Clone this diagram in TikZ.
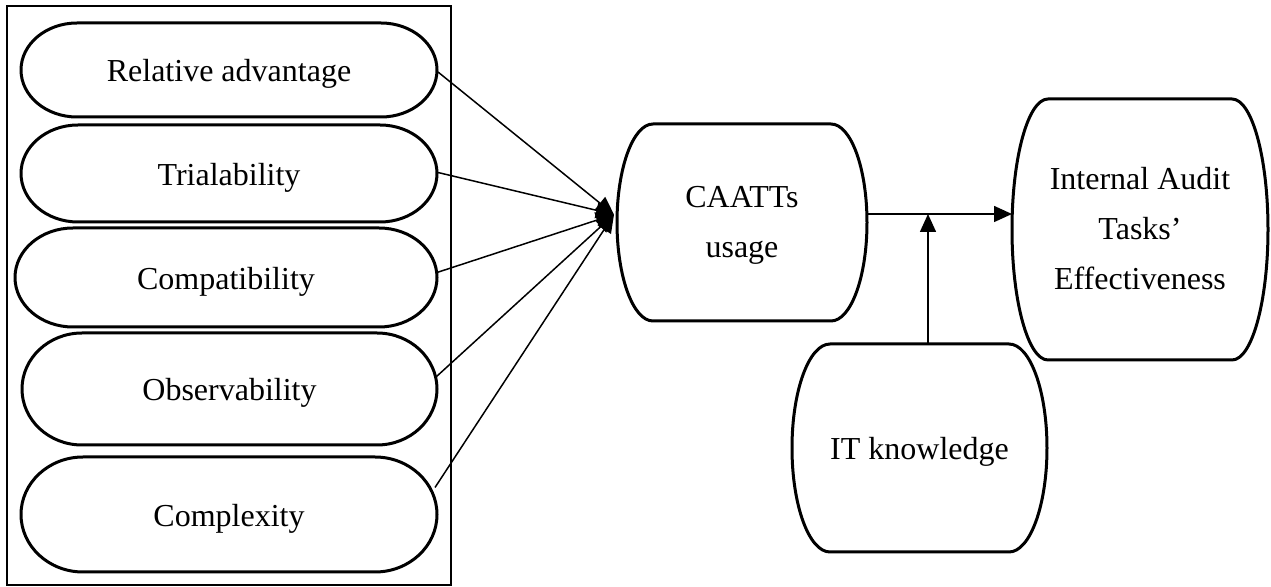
\documentclass[tikz,border=0pt]{standalone}
\usepackage{fontspec}
\setmainfont{Liberation Serif}
\usetikzlibrary{calc,arrows.meta}

% Outline of a node whose left and right ends are quarter-ellipse curves:
% #1 = node name, #2 = horizontal extent of each curved end
\newcommand\roundedoutline[2]{%
  \draw[outline]
    ($(#1.north west)+(#2,0)$) -- ($(#1.north east)+(-#2,0)$)
    .. controls ($(#1.north east)+(-0.448*#2,0)$) and ($(#1.east)!0.552!(#1.north east)$) .. (#1.east)
    .. controls ($(#1.east)!0.552!(#1.south east)$) and ($(#1.south east)+(-0.448*#2,0)$) .. ($(#1.south east)+(-#2,0)$)
    -- ($(#1.south west)+(#2,0)$)
    .. controls ($(#1.south west)+(0.448*#2,0)$) and ($(#1.west)!0.552!(#1.south west)$) .. (#1.west)
    .. controls ($(#1.west)!0.552!(#1.north west)$) and ($(#1.north west)+(0.448*#2,0)$) .. cycle;
}

% centred stack of lines with even spacing
\newcommand\stacked[1]{\begin{tabular}{@{}c@{}}#1\end{tabular}}

\tikzset{
  outline/.style={line width=1.5pt, line join=round},
  frame/.style={line width=1pt},
  box/.style={rectangle, draw=none, inner sep=0pt, outer sep=0pt, align=center,
              font=\fontsize{16}{25}\selectfont},
  oneline/.style={box, text height=15pt, text depth=3pt},
  link/.style={line width=0.75pt, -{Triangle[length=9pt,width=8pt]}}
}

\begin{document}
\begin{tikzpicture}[x=0.5pt, y=-0.5pt]
\useasboundingbox (0,0) rectangle (1271,587);

% group of innovation attributes
\draw[frame] (7,6) rectangle (451,585);

\node[oneline, minimum width=208pt,   minimum height=47pt]   (rel) at (229,70)    {Relative advantage};
\node[oneline, minimum width=208pt,   minimum height=48.5pt] (tri) at (229,173.5) {Trialability};
\node[oneline, minimum width=211pt,   minimum height=49.5pt] (com) at (226,277.5) {Compatibility};
\node[oneline, minimum width=207.5pt, minimum height=56pt]   (obs) at (229.5,389) {Observability};
\node[oneline, minimum width=208pt,   minimum height=57.5pt] (cpx) at (229,514.5) {Complexity};

\roundedoutline{rel}{56}
\roundedoutline{tri}{57}
\roundedoutline{com}{58}
\roundedoutline{obs}{60}
\roundedoutline{cpx}{62}

% usage, moderator and outcome
\node[box, minimum width=125pt,   minimum height=98.5pt]  (caatts) at (742,222.5)  {\stacked{CAATTs\\usage}};
\node[box, minimum width=128pt,   minimum height=130.5pt] (iat)    at (1140,229.5) {\stacked{Internal Audit\\Tasks'\\Effectiveness}};
\node[oneline, minimum width=127.5pt, minimum height=104pt] (itk)  at (919.5,448)  {IT knowledge};

\roundedoutline{caatts}{36}
\roundedoutline{iat}{36}
\roundedoutline{itk}{38}

% attributes feeding CAATTs usage
\draw[link] ($(rel.east)+(1,2)$)   -- ($(caatts.west)+(-3,-8)$);
\draw[link] ($(tri.east)+(1,-1)$)  -- ($(caatts.west)+(-3,-8)$);
\draw[link] ($(com.east)+(0,-5)$)  -- ($(caatts.west)+(-3,-8)$);
\draw[link] ($(obs.east)+(-1,-12)$) -- ($(caatts.west)+(-3,-8)$);
\draw[link] ($(cpx.east)+(-2,-27)$) -- ($(caatts.west)+(-3,-8)$);

% usage to effectiveness, moderated by IT knowledge
\coordinate (junction) at ($(caatts.east)+(0,-8.5)$);
\coordinate (itktop) at ($(itk.north)+(8.5,0)$);
\draw[link] (junction) -- (junction -| iat.west);
\draw[link] (itktop) -- (itktop |- junction);
\end{tikzpicture}
\end{document}
